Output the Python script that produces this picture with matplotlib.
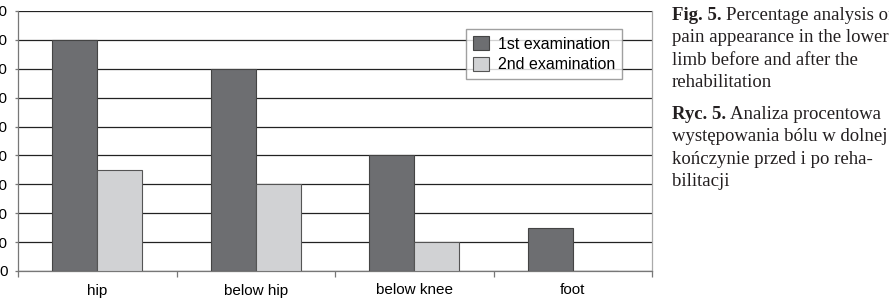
import matplotlib
matplotlib.use("Agg")
import matplotlib.pyplot as plt
import numpy as np

categories = ["hip", "below hip", "below knee", "foot"]
first_exam = [80, 70, 40, 15]
second_exam = [35, 30, 10, 0]
yticks = [0, 10, 20, 30, 40, 50, 60, 70, 80, 90]
series_labels = ["1st examination", "2nd examination"]

W, H = 889, 302
fig = plt.figure(figsize=(W / 100, H / 100), dpi=100)
L, R, T, B = 18, 652, 11, 271
ax = fig.add_axes([L / W, (H - B) / H, (R - L) / W, (B - T) / H])

x = np.arange(len(categories))
bw = 0.285
dark = "#6d6e71"
light = "#d1d2d4"
ax.bar(x - bw / 2, first_exam, bw, color=dark, edgecolor="#444444", linewidth=0.8,
       label=series_labels[0], zorder=3)
ax.bar(x + bw / 2, second_exam, bw, color=light, edgecolor="#555555", linewidth=0.8,
       label=series_labels[1], zorder=3)

ax.set_xlim(-0.5, len(categories) - 0.5)
ax.set_ylim(0, 90)
ax.set_yticks(yticks)
ax.set_yticklabels([str(v) for v in yticks], fontfamily="Liberation Sans", fontsize=11)
ax.yaxis.grid(True, color="#222222", linewidth=0.9, zorder=0)
ax.set_axisbelow(True)

ax.set_xticks(x)
ax.set_xticklabels(categories, fontfamily="Liberation Sans", fontsize=11)
ax.tick_params(axis="x", length=0, pad=9)
ax.set_xticks(np.arange(-0.5, len(categories)), minor=True)
ax.tick_params(axis="x", which="minor", length=4, color="#777777", width=0.9)
ax.tick_params(axis="y", length=2.5, color="#777777", width=0.9, pad=5)

ax.spines["top"].set_visible(False)
ax.spines["right"].set_color("#aaaaaa")
ax.spines["left"].set_color("#777777")
ax.spines["bottom"].set_color("#777777")
for s in ax.spines.values():
    s.set_linewidth(0.9)

leg = ax.legend(loc="upper left", bbox_to_anchor=(466 / W, 1 - 29 / H),
                bbox_transform=fig.transFigure, frameon=True, fancybox=False,
                prop={"family": "Liberation Sans", "size": 11.5},
                handlelength=1.0, handleheight=1.0, handletextpad=0.55,
                borderpad=0.45, labelspacing=0.3, borderaxespad=0)
leg.get_frame().set_edgecolor("#888888")
leg.get_frame().set_linewidth(1.0)

serif = "Liberation Serif"
fs = 13.5
lines_en = ["Percentage analysis of", "pain appearance in the lower",
            "limb before and after the", "rehabilitation"]
lines_pl = ["Analiza procentowa", "występowania bólu w dolnej",
            "kończynie przed i po reha-", "bilitacji"]
x0 = 672
step = 22.4

def line_y(py):
    return 1 - py / H

def put_block(y_first, bold, lines):
    yb = y_first
    t = fig.text(x0 / W, line_y(yb), bold, fontfamily=serif, fontsize=fs,
                 fontweight="bold", va="baseline", ha="left", color="#231f20")
    fig.canvas.draw()
    bb = t.get_window_extent()
    fig.text((bb.x1 + 4) / W, line_y(yb), lines[0], fontfamily=serif, fontsize=fs,
             va="baseline", ha="left", color="#231f20")
    for i, ln in enumerate(lines[1:], start=1):
        fig.text(x0 / W, line_y(yb + i * step), ln, fontfamily=serif, fontsize=fs,
                 va="baseline", ha="left", color="#231f20")

put_block(20, "Fig. 5.", lines_en)
put_block(119, "Ryc. 5.", lines_pl)

fig.savefig("out.png", dpi=100)
